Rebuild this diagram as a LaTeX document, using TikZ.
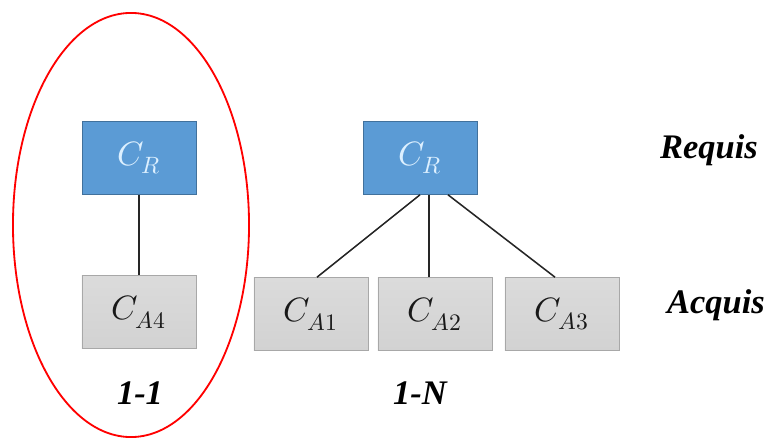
\documentclass[tikz,border=0pt]{standalone}
\usepackage{fontspec}
\setmainfont{Liberation Serif}
\usepackage{unicode-math}
\setmathfont{Latin Modern Math}
\usetikzlibrary{positioning,calc,shapes.geometric}
\definecolor{reqblue}{HTML}{5B9BD5}
\definecolor{reqedge}{HTML}{41719C}
\definecolor{acqgray}{HTML}{D2D2D2}
\definecolor{acqedge}{HTML}{A8A8A8}
\definecolor{reqtext}{HTML}{DDF0FF}

\begin{document}
\begin{tikzpicture}[
    x=0.025cm, y=-0.025cm,
    requis/.style={draw=reqedge, fill=reqblue, minimum width=2.85cm, minimum height=1.825cm, text=reqtext, font=\fontsize{24}{28}\selectfont},
    acquis/.style={draw=acqedge, top color=acqgray!80, bottom color=acqgray, minimum width=2.85cm, minimum height=1.825cm, text=black!90, font=\fontsize{24}{28}\selectfont},
    link/.style={draw=black!85, line width=1.1pt},
    lbl/.style={font=\fontsize{24.5}{28}\selectfont\bfseries\itshape}
]
\useasboundingbox (0,0) rectangle (769,439);

% cas 1-1
\node[ellipse, draw=red, line width=1.3pt, minimum width=5.9cm, minimum height=10.6cm] (ring) at (131,225) {};
\node[requis] (cr1) at (139,158) {$C_R$};
\node[acquis] (ca4) at (139,312) {$C_{A4}$};
\draw[link] (cr1.south) -- (ca4.north);
\node[lbl] (one) at (140,393) {1-1};

% cas 1-N
\node[requis] (cr2) at (420,158) {$C_R$};
\node[acquis] (ca1) at (311,314) {$C_{A1}$};
\node[acquis] (ca2) at (435,314) {$C_{A2}$};
\node[acquis] (ca3) at (562,314) {$C_{A3}$};
\draw[link] (cr2.south) -- ($(ca1.north)+(6,0)$);
\draw[link] ($(cr2.south)+(9,0)$) -- ($(ca2.north)+(-6,0)$);
\draw[link] ($(cr2.south)+(28,0)$) -- ($(ca3.north)+(-7,0)$);
\node[lbl] (many) at (420,393) {1-N};

% niveaux
\node[lbl] (req) at (709,150) {Requis};
\node[lbl] (acq) at (716,305) {Acquis};
\end{tikzpicture}
\end{document}
